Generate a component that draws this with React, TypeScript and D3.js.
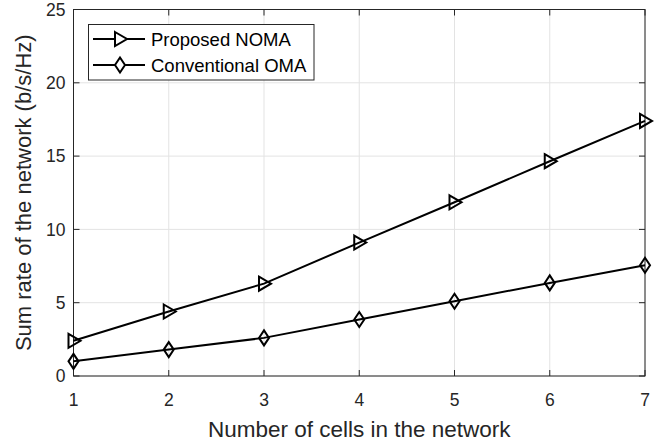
import React from 'react';
import * as d3 from 'd3';

const cells = [1, 2, 3, 4, 5, 6, 7];
const nomaRate = [2.4, 4.4, 6.3, 9.1, 11.85, 14.65, 17.4];
const omaRate = [1.0, 1.8, 2.6, 3.85, 5.1, 6.35, 7.55];
const yTicks = [0, 5, 10, 15, 20, 25];

const W = 667;
const H = 445;
const margin = { top: 9.5, right: 22, bottom: 69, left: 73.5 };
const ink = '#262626';
const font = '"Liberation Sans", Arial, Helvetica, sans-serif';

const triangle = (x: number, y: number) =>
  `M${x - 5},${y - 7}L${x + 7},${y}L${x - 5},${y + 7}Z`;
const diamond = (x: number, y: number) =>
  `M${x},${y - 7.5}L${x + 5},${y}L${x},${y + 7.5}L${x - 5},${y}Z`;

const App: React.FC = () => {
  const x = d3.scaleLinear().domain([1, 7]).range([margin.left, W - margin.right]);
  const y = d3.scaleLinear().domain([0, 25]).range([H - margin.bottom, margin.top]);
  const line = d3.line<number>().x((_, i) => x(cells[i])).y(d => y(d));

  const x0 = x.range()[0], x1 = x.range()[1];
  const y0 = y.range()[0], y1 = y.range()[1];

  return (
    <div style={{ position: 'absolute', left: 0, top: 0 }}>
      <svg width={W} height={H} style={{ display: 'block', background: '#fff' }}>
        {/* grid */}
        {cells.map(c => (
          <line key={'gx' + c} x1={x(c)} x2={x(c)} y1={y0} y2={y1} stroke="#e3e3e3" strokeWidth={1} />
        ))}
        {yTicks.map(t => (
          <line key={'gy' + t} x1={x0} x2={x1} y1={y(t)} y2={y(t)} stroke="#e3e3e3" strokeWidth={1} />
        ))}
        {/* axes box */}
        <rect x={x0} y={y1} width={x1 - x0} height={y0 - y1} fill="none" stroke={ink} strokeWidth={1} />
        {/* ticks */}
        {cells.map(c => (
          <g key={'tx' + c}>
            <line x1={x(c)} x2={x(c)} y1={y0} y2={y0 - 6} stroke={ink} />
            <line x1={x(c)} x2={x(c)} y1={y1} y2={y1 + 6} stroke={ink} />
            <text x={x(c)} y={y0 + 30} textAnchor="middle" fontFamily={font} fontSize={17.5} fill={ink}>{c}</text>
          </g>
        ))}
        {yTicks.map(t => (
          <g key={'ty' + t}>
            <line x1={x0} x2={x0 + 6} y1={y(t)} y2={y(t)} stroke={ink} />
            <line x1={x1} x2={x1 - 6} y1={y(t)} y2={y(t)} stroke={ink} />
            <text x={x0 - 8} y={y(t) + 6.3} textAnchor="end" fontFamily={font} fontSize={17.5} fill={ink}>{t}</text>
          </g>
        ))}
        {/* axis labels */}
        <text x={(x0 + x1) / 2} y={437} textAnchor="middle" fontFamily={font} fontSize={22.5} fill={ink}>
          Number of cells in the network
        </text>
        <text transform={`translate(31,${(y0 + y1) / 2}) rotate(-90)`} textAnchor="middle" fontFamily={font} fontSize={22} fill={ink}>
          Sum rate of the network (b/s/Hz)
        </text>
        {/* series */}
        <path d={line(nomaRate) || ''} fill="none" stroke="#000" strokeWidth={2} />
        <path d={line(omaRate) || ''} fill="none" stroke="#000" strokeWidth={2} />
        {nomaRate.map((v, i) => (
          <path key={'n' + i} d={triangle(x(cells[i]), y(v))} fill="none" stroke="#000" strokeWidth={2} />
        ))}
        {omaRate.map((v, i) => (
          <path key={'o' + i} d={diamond(x(cells[i]), y(v))} fill="none" stroke="#000" strokeWidth={2} />
        ))}
        {/* legend */}
        <rect x={88.5} y={24.5} width={225.5} height={55.5} fill="#fff" stroke={ink} strokeWidth={1} />
        <line x1={93} x2={145} y1={39} y2={39} stroke="#000" strokeWidth={2} />
        <path d={triangle(120, 39)} fill="#fff" stroke="#000" strokeWidth={2} />
        <text x={151} y={45.5} fontFamily={font} fontSize={18.5} fill="#000">Proposed NOMA</text>
        <line x1={93} x2={145} y1={65} y2={65} stroke="#000" strokeWidth={2} />
        <path d={diamond(120, 65)} fill="#fff" stroke="#000" strokeWidth={2} />
        <text x={151} y={71.5} fontFamily={font} fontSize={18.5} fill="#000">Conventional OMA</text>
      </svg>
    </div>
  );
};

export default App;
